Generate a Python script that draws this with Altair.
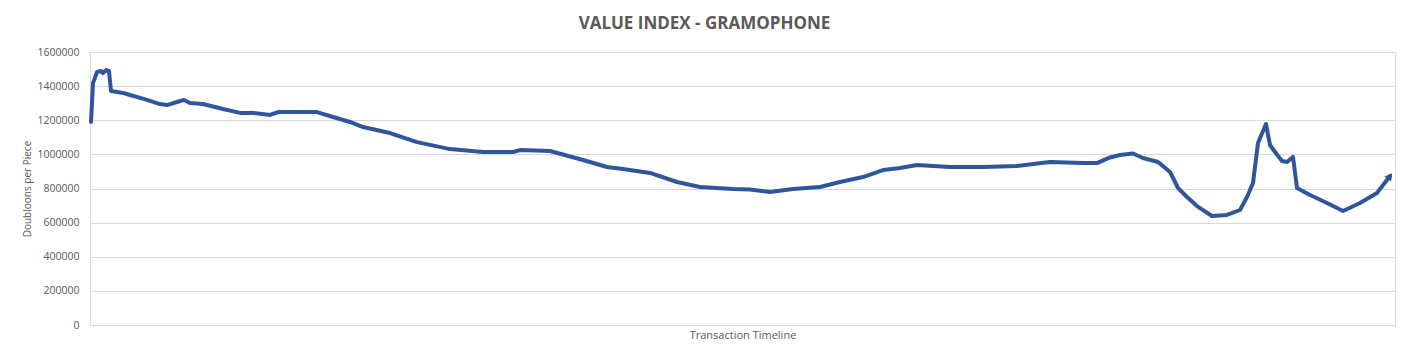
import altair as alt
import pandas as pd

# Timeline position (arbitrary units along the transaction timeline)
timeline = [
    1, 3, 7, 11, 13, 16, 19, 21, 33, 40,
    57, 70, 77, 87, 94, 100, 113, 133, 150, 163,
    180, 188, 227, 243, 260, 273, 300, 327, 360, 393,
    423, 430, 460, 493, 517, 533, 560, 587, 610, 643,
    660, 680, 703, 730, 750, 773, 793, 810, 827, 860,
    893, 927, 960, 993, 1007, 1020, 1030, 1043, 1053, 1068,
    1080, 1088, 1097, 1107, 1122, 1137, 1150, 1157, 1163, 1168,
    1176, 1180, 1185, 1192, 1197, 1203, 1207, 1220, 1237, 1253,
    1270, 1287, 1300,
]
# Doubloons per piece
value = [
    1190000, 1418000, 1483000, 1489000, 1477000, 1494000, 1489000, 1371000, 1360000, 1348000,
    1319000, 1295000, 1289000, 1307000, 1319000, 1301000, 1295000, 1266000, 1243000, 1243000,
    1231000, 1248000, 1248000, 1219000, 1190000, 1160000, 1125000, 1072000, 1031000, 1014000,
    1014000, 1025000, 1020000, 967000, 926000, 914000, 891000, 838000, 809000, 797000,
    794000, 779000, 797000, 809000, 838000, 867000, 908000, 920000, 938000, 926000,
    926000, 932000, 955000, 949000, 949000, 982000, 996000, 1005000, 979000, 955000,
    897000, 803000, 750000, 697000, 639000, 645000, 674000, 750000, 832000, 1067000,
    1178000, 1055000, 1014000, 961000, 955000, 985000, 803000, 762000, 715000, 668000,
    715000, 774000, 873000,
]
# Y axis tick values
y_ticks = [0, 200000, 400000, 600000, 800000, 1000000, 1200000, 1400000, 1600000]

df = pd.DataFrame({"t": timeline, "v": value})
end = df.tail(1)

FONT = "Open Sans"
GRAY = "#595959"
BLUE = "#2F559B"

x = alt.X("t:Q", scale=alt.Scale(domain=[0, 1305], nice=False, zero=False),
          axis=alt.Axis(title="Transaction Timeline", labels=False, ticks=False,
                        domain=False, grid=False, titleFont=FONT, titleFontSize=11,
                        titleFontWeight="normal", titleColor=GRAY, titlePadding=4))
y = alt.Y("v:Q", scale=alt.Scale(domain=[0, 1600000], nice=False),
          axis=alt.Axis(title="Doubloons per Piece", values=y_ticks, tickCount=9,
                        labelOverlap=False, format="d", ticks=False, domain=False,
                        grid=True, gridColor="#d9d9d9", gridWidth=1,
                        labelFont=FONT, labelFontSize=10.5,
                        labelColor=GRAY, labelPadding=11, titleFont=FONT,
                        titleFontSize=10, titleFontWeight="normal", titleColor=GRAY,
                        titlePadding=4))

line = alt.Chart(df).mark_line(color=BLUE, strokeWidth=4, strokeJoin="round",
                               strokeCap="round").encode(x=x, y=y)
arrow = alt.Chart(end).mark_point(shape="triangle-up", filled=True, color=BLUE,
                                  size=70, angle=37, opacity=1).encode(x="t:Q", y="v:Q")

chart = (line + arrow).properties(
    width=1305, height=273,
    title=alt.TitleParams("VALUE INDEX - GRAMOPHONE", font=FONT, fontSize=17,
                          fontWeight="bold", color=GRAY, dx=-38, offset=14),
    autosize=alt.AutoSizeParams(type="none"),
    padding={"left": 82, "top": 44, "right": 5, "bottom": 20},
).configure_view(strokeWidth=0, stroke="transparent").configure(background="white")

chart.save("out.html", embed_options={"renderer": "svg", "actions": False})
